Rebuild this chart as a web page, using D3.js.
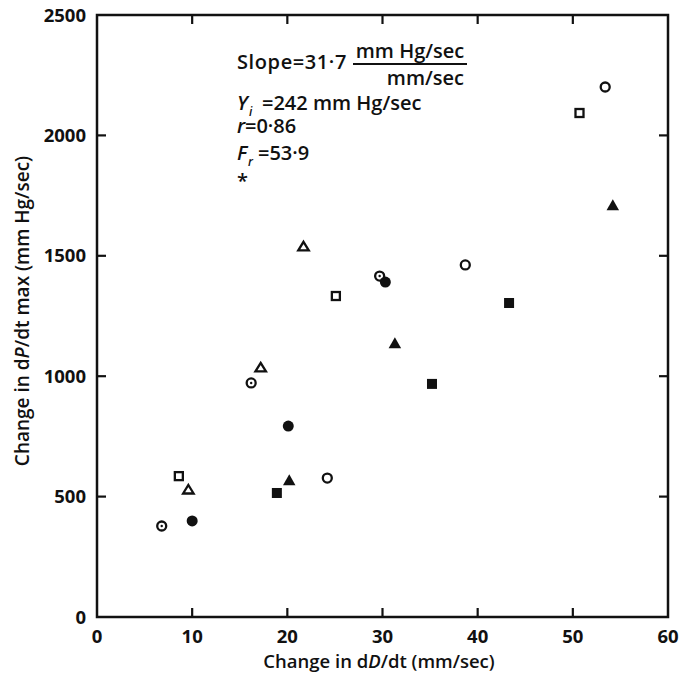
<!DOCTYPE html>
<html><head><meta charset="utf-8">
<script src="https://cdn.jsdelivr.net/npm/d3@7"></script>
<style>body{margin:0;background:#fff;} text{font-family:"Open Sans",sans-serif;fill:#111;}</style>
</head><body>
<svg id="c" width="682" height="677"></svg>
<script>
// Data: [dD/dt change (mm/sec), dP/dt max change (mm Hg/sec)]
const dotCircle   = [[6.8,378],[16.2,972],[29.7,1416]];
const openCircle  = [[24.2,577],[38.7,1462],[53.4,2201]];
const openSquare  = [[8.6,585],[25.1,1333],[50.7,2093]];
const openTri     = [[9.6,527],[17.2,1034],[21.7,1537]];
const fillCircle  = [[10.0,399],[20.1,793],[30.3,1391]];
const fillTri     = [[20.2,565],[31.3,1134],[54.2,1707]];
const fillSquare  = [[18.9,515],[35.2,968],[43.3,1304]];
const xTicks = [0,10,20,30,40,50,60];
const yTicks = [0,500,1000,1500,2000,2500];

const svg = d3.select("#c");
const x = d3.scaleLinear().domain([0,60]).range([97,668]);
const y = d3.scaleLinear().domain([0,2500]).range([617,15]);

// frame
svg.append("rect").attr("x",x(0)).attr("y",y(2500)).attr("width",x(60)-x(0)).attr("height",y(0)-y(2500))
  .attr("fill","none").attr("stroke","#111").attr("stroke-width",2.5);

const tl = 9;
const g = svg.append("g").attr("stroke","#111").attr("stroke-width",2.2);
xTicks.slice(1,-1).forEach(t=>{
  g.append("line").attr("x1",x(t)).attr("x2",x(t)).attr("y1",y(0)).attr("y2",y(0)-tl);
  g.append("line").attr("x1",x(t)).attr("x2",x(t)).attr("y1",y(2500)).attr("y2",y(2500)+tl);
});
yTicks.slice(1,-1).forEach(t=>{
  g.append("line").attr("y1",y(t)).attr("y2",y(t)).attr("x1",x(0)).attr("x2",x(0)+tl);
  g.append("line").attr("y1",y(t)).attr("y2",y(t)).attr("x1",x(60)).attr("x2",x(60)-tl);
});
xTicks.forEach(t=>{
  svg.append("text").attr("x",x(t)).attr("y",643).attr("text-anchor","middle")
    .attr("font-size",18.5).attr("font-weight",700).text(t);
});
yTicks.forEach(t=>{
  svg.append("text").attr("x",86).attr("y",y(t)+6.5).attr("text-anchor","end")
    .attr("font-size",18.5).attr("font-weight",700).text(t);
});

// axis titles
const xt = svg.append("text").attr("x",379).attr("y",668).attr("text-anchor","middle")
  .attr("font-size",18.5).attr("font-weight",600);
xt.append("tspan").text("Change in d");
xt.append("tspan").attr("font-style","italic").text("D");
xt.append("tspan").text("/dt (mm/sec)");

const yt = svg.append("text").attr("transform","translate(29,311) rotate(-90)").attr("text-anchor","middle")
  .attr("font-size",19).attr("font-weight",600);
yt.append("tspan").text("Change in d");
yt.append("tspan").attr("font-style","italic").text("P");
yt.append("tspan").text("/dt max (mm Hg/sec)");

// annotation
const fs = 20;
function txt(xp, yp, s, opts={}){
  const t = svg.append("text").attr("x",xp).attr("y",yp).attr("font-size",opts.size||fs).attr("font-weight",600).text(s);
  if(opts.italic) t.attr("font-style","italic");
  if(opts.anchor) t.attr("text-anchor",opts.anchor);
  return t;
}
txt(237,69,"Slope=31·7",{}).attr("letter-spacing",0.6);
txt(410,58,"mm Hg/sec",{anchor:"middle"});
svg.append("line").attr("x1",353).attr("x2",467).attr("y1",64).attr("y2",64).attr("stroke","#111").attr("stroke-width",1.8);
txt(464,85,"mm/sec",{anchor:"end"});
txt(237,110,"Y",{italic:true});
txt(249,116,"i",{italic:true,size:12});
txt(262,110,"=242 mm Hg/sec");
txt(237,133,"r",{italic:true});
txt(245,133,"=0·86");
txt(237,160,"F",{italic:true});
txt(248,166,"r",{italic:true,size:12});
txt(258,160,"=53·9");
txt(237,188,"*");

// markers
const m = svg.append("g");
const sw = 2.3;
function pts(data, fn){ data.forEach(d=>fn(x(d[0]),y(d[1]))); }
pts(dotCircle,(cx,cy)=>{
  m.append("circle").attr("cx",cx).attr("cy",cy).attr("r",4.5).attr("fill","#fff").attr("stroke","#111").attr("stroke-width",sw);
  m.append("circle").attr("cx",cx).attr("cy",cy).attr("r",1.2).attr("fill","#111");
});
pts(openCircle,(cx,cy)=>m.append("circle").attr("cx",cx).attr("cy",cy).attr("r",4.5).attr("fill","#fff").attr("stroke","#111").attr("stroke-width",sw));
pts(fillCircle,(cx,cy)=>m.append("circle").attr("cx",cx).attr("cy",cy).attr("r",5.5).attr("fill","#111"));
pts(openSquare,(cx,cy)=>m.append("rect").attr("x",cx-4).attr("y",cy-4).attr("width",8).attr("height",8).attr("fill","#fff").attr("stroke","#111").attr("stroke-width",sw));
pts(fillSquare,(cx,cy)=>m.append("rect").attr("x",cx-5).attr("y",cy-5).attr("width",10).attr("height",10).attr("fill","#111"));
const tri = (cx,cy,h,w)=>`M${cx},${cy-h*0.6}L${cx+w/2},${cy+h*0.4}L${cx-w/2},${cy+h*0.4}Z`;
pts(openTri,(cx,cy)=>m.append("path").attr("d",tri(cx,cy,8.5,10.5)).attr("fill","#fff").attr("stroke","#111").attr("stroke-width",sw).attr("stroke-linejoin","miter"));
pts(fillTri,(cx,cy)=>m.append("path").attr("d",tri(cx,cy,11,12.5)).attr("fill","#111"));
</script>
</body></html>
